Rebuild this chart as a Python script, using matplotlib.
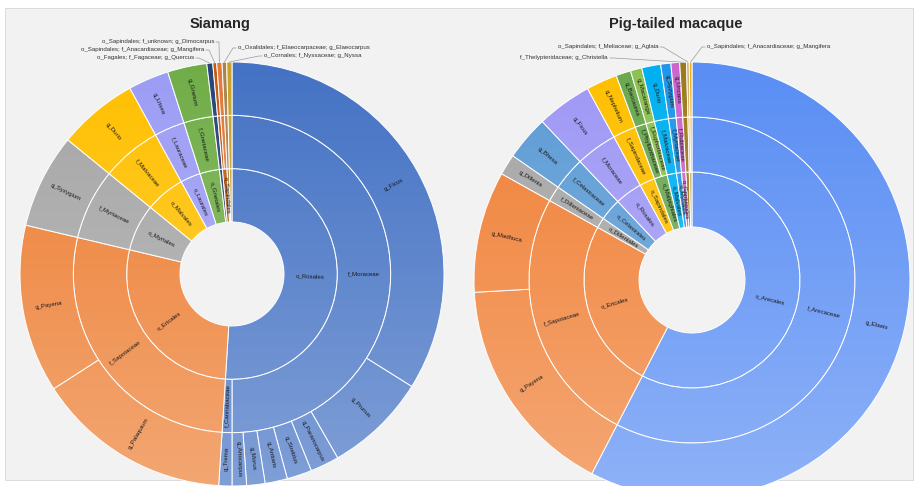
import numpy as np
import matplotlib
matplotlib.use("Agg")
import matplotlib.pyplot as plt
from matplotlib.patches import Rectangle, Wedge

plt.rcParams['font.family'] = ['Liberation Sans', 'DejaVu Sans']

# ---------------- Siamang data (share of diet, %) ----------------
sia_order = ["o_Rosales"] * 8 + ["o_Ericales"] * 2 + [
    "o_Myrtales", "o_Malvales", "o_Laurales", "o_Gnetales",
    "o_Fagales", "o_Sapindales", "o_Sapindales", "o_Oxalidales", "o_Cornales"]
sia_family = ["f_Moraceae"] * 7 + ["f_Cannabaceae"] + ["f_Sapotaceae"] * 2 + [
    "f_Myrtaceae", "f_Malvaceae", "f_Lauraceae", "f_Gnetaceae",
    "f_Fagaceae", "f_Anacardiaceae", "f_Sapindaceae", "f_Elaeocarpaceae", "f_Nyssaceae"]
sia_genus = ["g_Ficus", "g_Prunus", "g_Parartocarpus", "g_Streblus", "g_Antiaris",
             "g_Morus", "g_Artocarpus", "g_Trema", "g_Palaquium", "g_Payena",
             "g_Syzygium", "g_Durio", "g_Litsea", "g_Gnetum",
             "g_Quercus", "g_Mangifera", "g_Dimocarpus", "g_Elaeocarpus", "g_Nyssa"]
sia_value = [33.9, 7.8, 2.2, 1.9, 1.7, 1.4, 1.1, 1.0, 14.9, 12.8,
             7.2, 6.1, 3.1, 3.0, 0.45, 0.3, 0.4, 0.35, 0.4]
sia_color = ["#4472C4"] * 8 + ["#ED7D31"] * 2 + [
    "#A5A5A5", "#FFC000", "#9C9CF5", "#70AD47",
    "#264478", "#C55A11", "#E07A3A", "#A8844E", "#C9A227"]

# ---------------- Pig-tailed macaque data (share of diet, %) ----------------
pig_order = ["o_Arecales", "o_Ericales", "o_Ericales", "o_Dilleniales", "o_Celastrales",
             "o_Rosales", "o_Sapindales", "o_Malpighiales", "o_Malpighiales", "o_Malvales",
             "o_Myrtales", "o_Gentianales", "o_Polypodiales", "o_Sapindales", "o_Sapindales"]
pig_family = ["f_Arecaceae", "f_Sapotaceae", "f_Sapotaceae", "f_Dilleniaceae", "f_Celastraceae",
              "f_Moraceae", "f_Sapindaceae", "f_Phyllanthaceae", "f_Euphorbiaceae", "f_Malvaceae",
              "f_Myrtaceae", "f_Rubiaceae", "f_Thelypteridaceae", "f_Meliaceae", "f_Anacardiaceae"]
pig_genus = ["g_Elaeis", "g_Payena", "g_Madhuca", "g_Dillenia", "g_Bhesa",
             "g_Ficus", "g_Nephelium", "g_Baccaurea", "g_Macaranga", "g_Durio",
             "g_Syzygium", "g_Uncaria", "g_Christella", "g_Aglaia", "g_Mangifera"]
pig_value = [57.6, 16.5, 9.0, 1.55, 3.3, 4.1, 2.3, 1.1, 0.85, 1.4,
             0.75, 0.65, 0.5, 0.2, 0.2]
pig_color = ["#5A8EF4", "#F07F35", "#F07F35", "#A5A5A5", "#5B9BD5",
             "#9E98F5", "#FFC000", "#6AA84F", "#8CC152", "#00B0F0",
             "#2196E8", "#CC66CC", "#9C7A1E", "#D4B06A", "#E6B422"]

# leader-line labels (text shown outside the chart)
sia_callouts = {
    "g_Dimocarpus": ("o_Sapindales; f_unknown; g_Dimocarpus", 216, 444, "right"),
    "g_Mangifera": ("o_Sapindales; f_Anacardiaceae; g_Mangifera", 206, 436, "right"),
    "g_Quercus": ("o_Fagales; f_Fagaceae; g_Quercus", 196, 428, "right"),
    "g_Elaeocarpus": ("o_Oxalidales; f_Elaeocarpaceae; g_Elaeocarpus", 236, 438, "left"),
    "g_Nyssa": ("o_Cornales; f_Nyssaceae; g_Nyssa", 262, 430, "left"),
}
pig_callouts = {
    "g_Aglaia": ("o_Sapindales; f_Meliaceae; g_Aglaia", 660, 439, "right"),
    "g_Christella": ("f_Thelypteridaceae; g_Christella", 610, 428, "right"),
    "g_Mangifera": ("o_Sapindales; f_Anacardiaceae; g_Mangifera", 705, 439, "left"),
}

W, H = 918, 486
fig = plt.figure(figsize=(W / 100, H / 100), dpi=100)
fig.patch.set_facecolor("white")
ax = fig.add_axes([0, 0, 1, 1])


def runs(keys, values, colors):
    """aggregate consecutive rows that share the same key"""
    labs, vals, cols = [], [], []
    for k, v, c in zip(keys, values, colors):
        if labs and labs[-1] == k:
            vals[-1] += v
        else:
            labs.append(k)
            vals.append(v)
            cols.append(c)
    return labs, vals, cols


def slice_label(cx, cy, a0, a1, rmid, text):
    am = np.deg2rad((a0 + a1) / 2.0)
    x = cx + rmid * np.sin(am)
    y = cy + rmid * np.cos(am)
    rot = 90 - np.rad2deg(am)
    rot = (rot + 180) % 360 - 180
    if rot > 90:
        rot -= 180
    if rot < -90:
        rot += 180
    ax.text(x, y, text, rotation=rot, rotation_mode="anchor", ha="center",
            va="center", fontsize=4.4, color="#1a1a1a", zorder=6)


def sunburst(cx, cy, r_hole, r_out, order, family, genus, value, color,
             callouts, title, tx):
    ring_w = (r_out - r_hole) / 3.0
    fam_keys = [o + "|" + f for o, f in zip(order, family)]
    gen_keys = [o + "|" + f + "|" + g for o, f, g in zip(order, family, genus)]
    rings = [runs(order, value, color), runs(fam_keys, value, color),
             runs(gen_keys, value, color)]
    total = float(sum(value))
    for i, (labs, vals, cols) in enumerate(rings):
        r_ring = r_hole + ring_w * (i + 1)
        ax.pie(vals, radius=r_ring, center=(cx, cy), startangle=90,
               counterclock=False, colors=cols, normalize=True, frame=True,
               wedgeprops=dict(width=ring_w, edgecolor="white", linewidth=0.7))
        edges = np.concatenate([[0], np.cumsum(vals)]) / total * 360.0
        rmid = r_ring - ring_w / 2
        for j, lab in enumerate(labs):
            a0, a1 = edges[j], edges[j + 1]
            name = lab.split("|")[-1]
            if a1 - a0 >= 2.0:
                slice_label(cx, cy, a0, a1, rmid, name)
            elif i == 2 and name in callouts:
                text, lx, ly, ha = callouts[name]
                am = np.deg2rad((a0 + a1) / 2.0)
                px = cx + r_out * np.sin(am)
                py = cy + r_out * np.cos(am)
                ex = lx + (3 if ha == "right" else -3)
                ax.plot([px, ex, lx], [py, ly, ly], color="#9a9a9a", lw=0.5, zorder=5)
                ax.text(lx + (-2 if ha == "right" else 2), ly, text, ha=ha, va="center",
                        fontsize=4.4, color="#333333", zorder=6)
    # soft vertical gradient like the original rendering
    grad = np.ones((256, 1, 4))
    grad[:, 0, 3] = np.linspace(0.0, 0.32, 256)
    ann = Wedge((cx, cy), r_out, 0, 360, width=r_out - r_hole, transform=ax.transData)
    im = ax.imshow(grad, extent=[cx - r_out, cx + r_out, cy - r_out, cy + r_out],
                   origin="upper", aspect="auto", zorder=3, interpolation="bilinear")
    im.set_clip_path(ann)
    ax.text(tx, H - 24, title, ha="center", va="center", fontsize=10.5,
            fontweight="bold", color="#262626", zorder=6)


ax.add_patch(Rectangle((5, 6), 908, 472, facecolor="#F2F2F2", edgecolor="#D6D6D6",
                       lw=0.6, zorder=0))

sunburst(232, H - 274, 52, 212, sia_order, sia_family, sia_genus, sia_value, sia_color,
         sia_callouts, "Siamang", 220)
sunburst(692, H - 280, 53, 218, pig_order, pig_family, pig_genus, pig_value, pig_color,
         pig_callouts, "Pig-tailed macaque", 676)

ax.set_xlim(0, W)
ax.set_ylim(0, H)
ax.set_aspect("equal")
ax.axis("off")
fig.savefig("out.png", dpi=100, facecolor="white")
